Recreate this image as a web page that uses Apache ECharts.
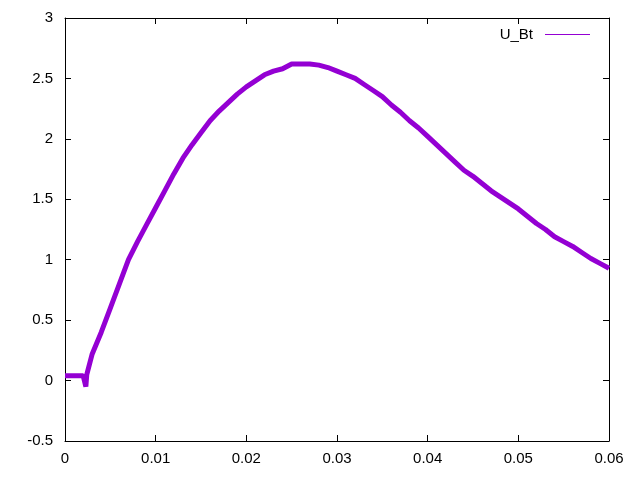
<!DOCTYPE html>
<html><head><meta charset="utf-8">
<script src="https://cdn.jsdelivr.net/npm/echarts@6/dist/echarts.min.js"></script>
<style>html,body{margin:0;padding:0;background:#fff}#c{width:640px;height:480px}</style>
</head><body><div id="c"></div>
<script>
var seriesName = "U_Bt";
var xValues = [0, 0.001, 0.002, 0.0022, 0.0023, 0.0024, 0.003, 0.004, 0.005, 0.006, 0.007, 0.008, 0.009, 0.010,
  0.011, 0.012, 0.013, 0.014, 0.015, 0.016, 0.017, 0.018, 0.019, 0.020,
  0.021, 0.022, 0.023, 0.024, 0.025, 0.026, 0.027, 0.028, 0.029, 0.030,
  0.031, 0.032, 0.033, 0.034, 0.035, 0.036, 0.037, 0.038, 0.039, 0.040,
  0.041, 0.042, 0.043, 0.044, 0.045, 0.046, 0.047, 0.048, 0.049, 0.050,
  0.051, 0.052, 0.053, 0.054, 0.055, 0.056, 0.057, 0.058, 0.059, 0.060];
var yValues = [0.04, 0.04, 0.04, 0.04, -0.05, 0.05, 0.22, 0.40, 0.60, 0.80, 1.00, 1.15, 1.29, 1.43,
  1.57, 1.71, 1.84, 1.95, 2.05, 2.15, 2.23, 2.30, 2.37, 2.43,
  2.48, 2.53, 2.56, 2.58, 2.62, 2.62, 2.62, 2.61, 2.59, 2.56,
  2.53, 2.50, 2.45, 2.40, 2.35, 2.28, 2.22, 2.15, 2.09, 2.02,
  1.95, 1.88, 1.81, 1.74, 1.69, 1.63, 1.57, 1.52, 1.47, 1.42,
  1.36, 1.30, 1.25, 1.19, 1.15, 1.11, 1.06, 1.01, 0.97, 0.93];
var xTicks = [0, 0.01, 0.02, 0.03, 0.04, 0.05, 0.06];
var yTicks = [-0.5, 0, 0.5, 1, 1.5, 2, 2.5, 3];

var color = "#9400d3";
var font = "Liberation Sans, Arial, sans-serif";
var data = xValues.map(function (x, i) { return [x, yValues[i]]; });
var chart = echarts.init(document.getElementById("c"), null, {renderer: "canvas"});
var axisLine = {show: true, onZero: false, lineStyle: {color: "#000", width: 1}};
var tick = {show: true, inside: true, length: 6, lineStyle: {color: "#000"}};
chart.setOption({
  animation: false,
  backgroundColor: "#fff",
  grid: {left: 65, right: 31, top: 18, bottom: 39, containLabel: false},
  legend: {
    data: [{name: seriesName, icon: "rect"}],
    right: 45, top: 22, align: "right",
    itemWidth: 45, itemHeight: 1, itemGap: 10,
    itemStyle: {color: color},
    textStyle: {fontFamily: font, fontSize: 15, color: "#000", padding: [0, 7, 0, 0]}
  },
  xAxis: [{
    type: "value", min: xTicks[0], max: xTicks[xTicks.length - 1], interval: 0.01,
    axisLine: axisLine, axisTick: tick, splitLine: {show: false},
    axisLabel: {fontFamily: font, fontSize: 15, color: "#000", margin: 10,
      formatter: function (v) { return String(+v.toFixed(4)); }}
  }, {
    type: "value", position: "top", min: xTicks[0], max: xTicks[xTicks.length - 1], interval: 0.01,
    axisLine: axisLine, axisTick: tick, axisLabel: {show: false}, splitLine: {show: false}
  }],
  yAxis: [{
    type: "value", position: "left", min: yTicks[0], max: yTicks[yTicks.length - 1], interval: 0.5,
    axisLine: axisLine, axisTick: tick, splitLine: {show: false},
    axisLabel: {fontFamily: font, fontSize: 15, color: "#000", margin: 12}
  }, {
    type: "value", position: "right", min: yTicks[0], max: yTicks[yTicks.length - 1], interval: 0.5,
    axisLine: axisLine, axisTick: tick, axisLabel: {show: false}, splitLine: {show: false}
  }],
  series: [{
    name: seriesName, type: "line", xAxisIndex: 0, yAxisIndex: 0,
    data: data, showSymbol: false, symbol: "none", smooth: false,
    lineStyle: {color: color, width: 5}, itemStyle: {color: color}
  }]
});
</script></body></html>
